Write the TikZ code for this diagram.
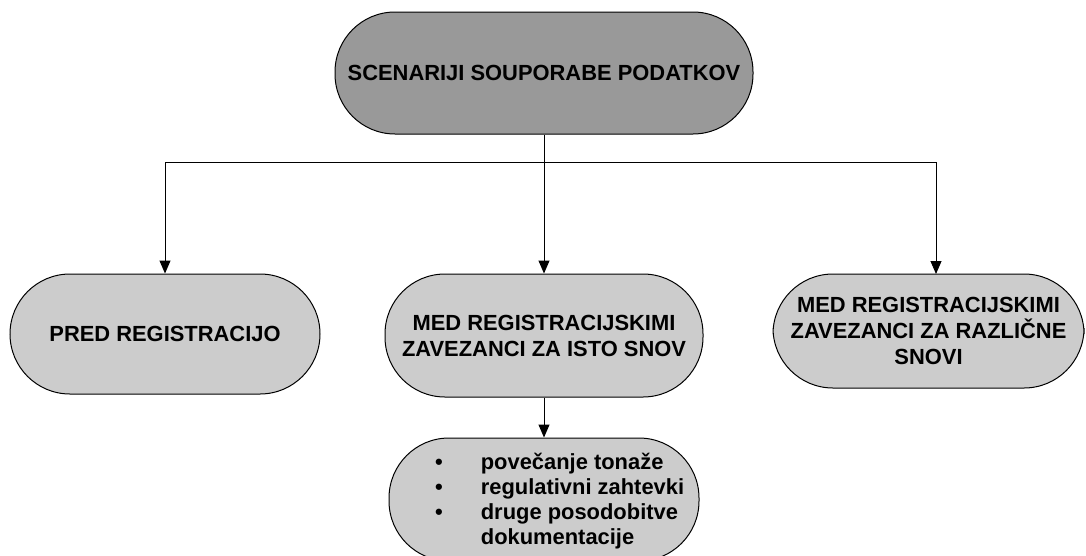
\documentclass[tikz,border=0pt]{standalone}
\usepackage{fontspec}
\setmainfont{Liberation Sans}
\usetikzlibrary{arrows.meta}
\definecolor{topgray}{HTML}{999999}
\definecolor{boxgray}{HTML}{CCCCCC}
\tikzset{
  pill/.style={draw=black, line width=1pt, rounded corners=60pt, align=center,
    font=\fontsize{21.9}{26}\selectfont\bfseries, inner sep=0pt},
  listtext/.style={font=\fontsize{21.9}{25.3}\selectfont\bfseries, inner sep=0pt, anchor=base west},
  conn/.style={draw=black, line width=1pt},
  arr/.style={conn, -{Triangle[length=13pt,width=11pt]}}
}
\begin{document}
\begin{tikzpicture}[x=1pt,y=-1pt]
\useasboundingbox (0,0) rectangle (1086,555);
\clip (0,0) rectangle (1086,555);
\node[pill, fill=topgray, minimum width=418pt, minimum height=122pt] (top) at (544,73) {SCENARIJI SOUPORABE PODATKOV};
\node[pill, fill=boxgray, minimum width=310pt, minimum height=120pt] (left) at (165,334) {PRED REGISTRACIJO};
\node[pill, fill=boxgray, minimum width=318pt, minimum height=123pt] (mid) at (544,335.5) {MED REGISTRACIJSKIMI\\ZAVEZANCI ZA ISTO SNOV};
\node[pill, fill=boxgray, minimum width=311pt, minimum height=114pt] (right) at (928.5,331) {MED REGISTRACIJSKIMI\\ZAVEZANCI ZA RAZLIČNE\\SNOVI};
\node[pill, fill=boxgray, minimum width=310pt, minimum height=123pt] (bot) at (544,499.5) {};
\node[listtext] (botlist) at (435,469) {%
  \begin{tabular}[t]{@{}l@{\hspace{38pt}}l@{}}
  \textbullet & povečanje tonaže\\
  \textbullet & regulativni zahtevki\\
  \textbullet & druge posodobitve\\
   & dokumentacije
  \end{tabular}};
\coordinate (hub) at (544,162);
\coordinate (lt) at (165,162);
\coordinate (rt) at (936,162);
\coordinate (rtin) at (936,274);
\draw[conn] (top.south) -- (hub);
\draw[conn] (lt) -- (rt);
\draw[arr] (hub) -- (mid.north);
\draw[arr] (lt) -- (left.north);
\draw[arr] (rt) -- (rtin);
\draw[arr] (mid.south) -- (bot.north);
\end{tikzpicture}
\end{document}
